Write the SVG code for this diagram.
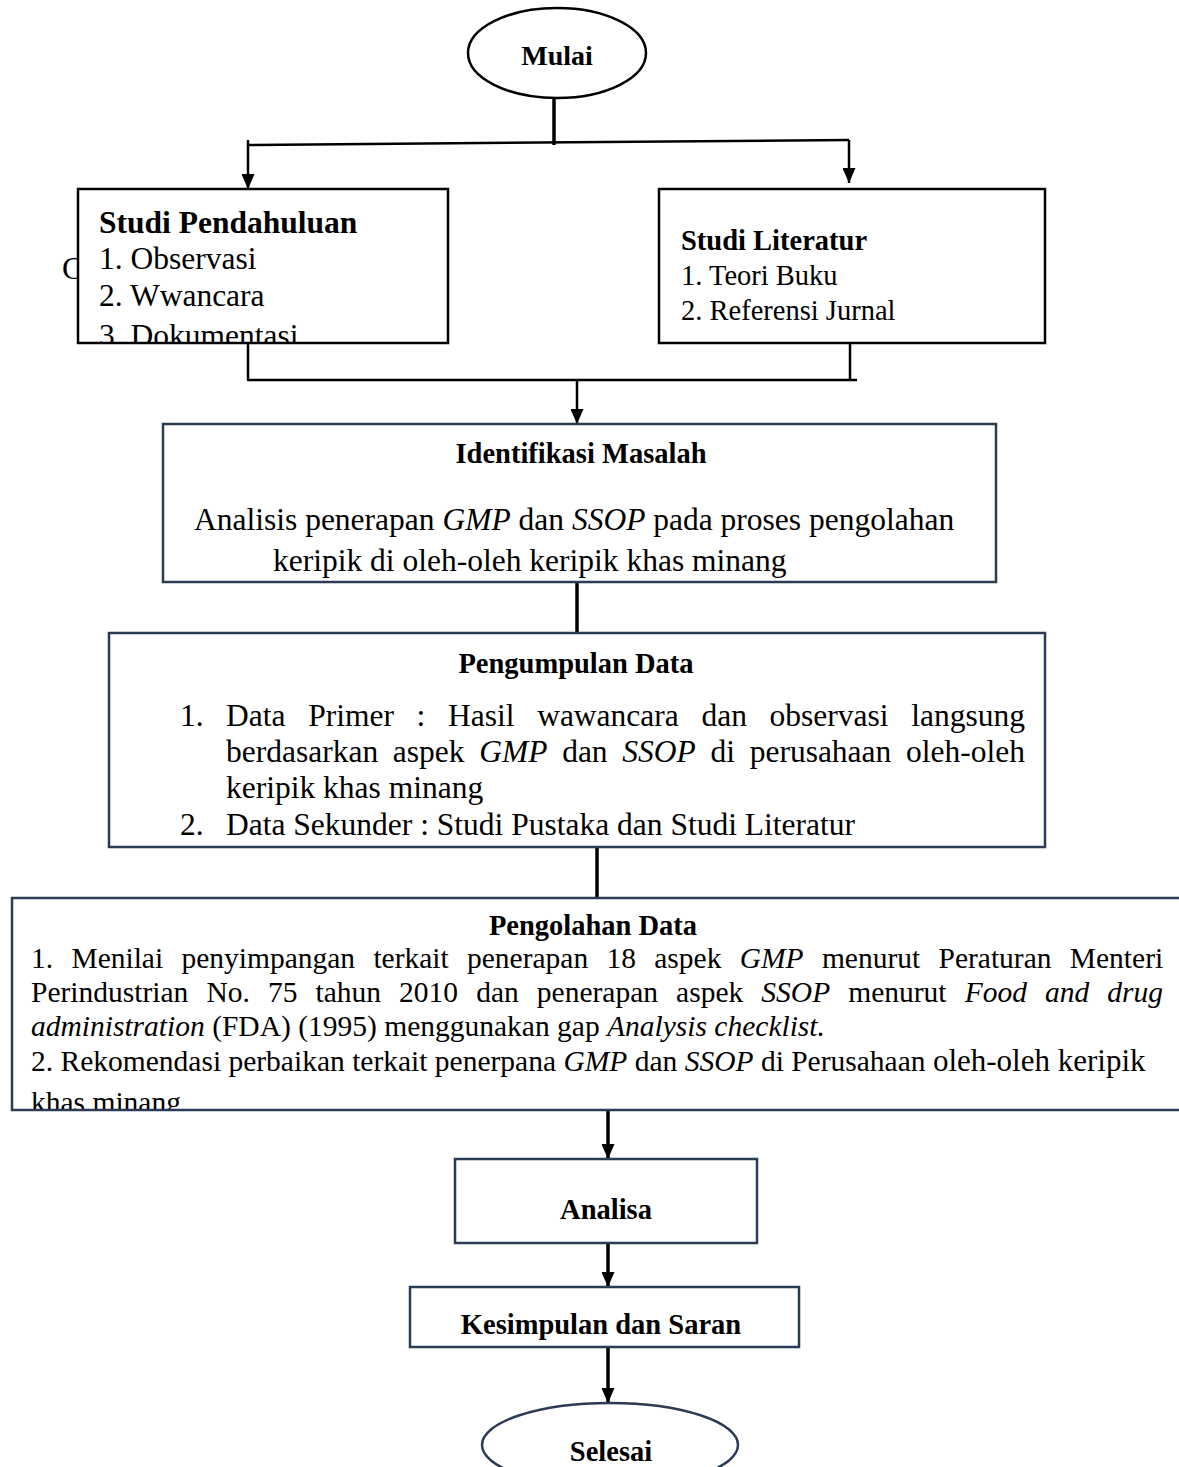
<svg xmlns="http://www.w3.org/2000/svg" width="1179" height="1467" viewBox="0 0 1179 1467">
<defs>
<style>
.t{font-family:"Liberation Serif","Times New Roman",serif;fill:#000}
.b{font-weight:bold}
.i{font-style:italic}
.box{fill:#fff;stroke:#000;stroke-width:2.5}
.nbox{fill:#fff;stroke:#2B3A55;stroke-width:2.5}
.ln{stroke:#000;stroke-width:2.5;fill:none}
.lt{stroke:#000;stroke-width:3.5;fill:none}
</style>
<marker id="ah" viewBox="0 0 10 10" refX="10" refY="5" markerWidth="15" markerHeight="13" markerUnits="userSpaceOnUse" orient="auto" preserveAspectRatio="none">
<path d="M0,0 L10,5 L0,10 z" fill="#000"/>
</marker>
<clipPath id="clipL"><rect x="78" y="189" width="370" height="153"/></clipPath>
<clipPath id="clipP"><rect x="12" y="898" width="1170" height="211"/></clipPath>
</defs>

<g id="connectors">
<line class="lt" x1="554" y1="98" x2="554" y2="145"/>
<line class="ln" x1="248" y1="145" x2="849" y2="140"/>
<line class="ln" x1="248" y1="140" x2="248" y2="189" marker-end="url(#ah)"/>
<line class="ln" x1="849" y1="140" x2="849" y2="183" marker-end="url(#ah)"/>
<line class="ln" x1="248" y1="343" x2="248" y2="380"/>
<line class="ln" x1="850" y1="343" x2="850" y2="380"/>
<line class="ln" x1="247" y1="380" x2="857" y2="380"/>
<line class="ln" x1="577" y1="380" x2="577" y2="424" marker-end="url(#ah)"/>
<line class="lt" x1="577" y1="582" x2="577" y2="633"/>
<line class="lt" x1="597" y1="847" x2="597" y2="898"/>
<line class="lt" x1="608" y1="1110" x2="608" y2="1159" marker-end="url(#ah)"/>
<line class="lt" x1="608" y1="1243" x2="608" y2="1287" marker-end="url(#ah)"/>
<line class="lt" x1="608" y1="1347" x2="608" y2="1403" marker-end="url(#ah)"/>
</g>

<g id="mulai">
<ellipse cx="557" cy="53" rx="89" ry="45" fill="#fff" stroke="#000" stroke-width="2.5"/>
<text class="t b" x="557" y="65" font-size="28" text-anchor="middle">Mulai</text>
</g>

<g id="studi-pendahuluan">
<text class="t" x="62" y="279" font-size="31.5">C</text>
<rect class="box" x="78" y="189" width="370" height="154"/>
<g clip-path="url(#clipL)">
<text class="t b" x="99" y="233" font-size="31.5">Studi Pendahuluan</text>
<text class="t" x="99" y="269" font-size="31.5">1. Observasi</text>
<text class="t" x="99" y="306" font-size="31.5">2. Wwancara</text>
<text class="t" x="99" y="346" font-size="31.5">3. Dokumentasi</text>
</g>
</g>

<g id="studi-literatur">
<rect class="box" x="659" y="189" width="386" height="154"/>
<text class="t b" x="681" y="250" font-size="28.5">Studi Literatur</text>
<text class="t" x="681" y="285" font-size="28.5">1. Teori Buku</text>
<text class="t" x="681" y="320" font-size="28.5">2. Referensi Jurnal</text>
</g>

<g id="identifikasi">
<rect class="nbox" x="163" y="424" width="833" height="158"/>
<text class="t b" x="581" y="463" font-size="28.5" text-anchor="middle">Identifikasi Masalah</text>
<text class="t" x="194" y="530" font-size="31.5">Analisis penerapan <tspan class="i">GMP</tspan> dan <tspan class="i">SSOP</tspan> pada proses pengolahan</text>
<text class="t" x="273" y="571" font-size="31.5">keripik di oleh-oleh keripik khas minang</text>
</g>

<g id="pengumpulan">
<rect class="nbox" x="109" y="633" width="936" height="214"/>
<text class="t b" x="576" y="673" font-size="28.5" text-anchor="middle">Pengumpulan Data</text>
<text class="t" x="180" y="726" font-size="31.5">1.</text>
<text class="t" x="226" y="726" font-size="31.5" style="word-spacing:14.8px">Data Primer : Hasil wawancara dan observasi langsung</text>
<text class="t" x="226" y="762" font-size="31.5" style="word-spacing:6.8px">berdasarkan aspek <tspan class="i">GMP</tspan> dan <tspan class="i">SSOP</tspan> di perusahaan oleh-oleh</text>
<text class="t" x="226" y="798" font-size="31.5">keripik khas minang</text>
<text class="t" x="180" y="835" font-size="31.5">2.</text>
<text class="t" x="226" y="835" font-size="31.5">Data Sekunder : Studi Pustaka dan Studi Literatur</text>
</g>

<g id="pengolahan">
<rect class="nbox" x="12" y="898" width="1180" height="212"/>
<text class="t b" x="593" y="935" font-size="28.5" text-anchor="middle">Pengolahan Data</text>
<g clip-path="url(#clipP)">
<text class="t" x="31" y="968" font-size="29.5" style="word-spacing:10.9px">1. Menilai penyimpangan terkait penerapan 18 aspek <tspan class="i">GMP</tspan> menurut Peraturan Menteri</text>
<text class="t" x="31" y="1002" font-size="29.5" style="word-spacing:10.7px">Perindustrian No. 75 tahun 2010 dan penerapan aspek <tspan class="i">SSOP</tspan> menurut <tspan class="i">Food and drug</tspan></text>
<text class="t" x="31" y="1036" font-size="29.5"><tspan class="i">administration</tspan> (FDA) (1995) menggunakan gap <tspan class="i">Analysis checklist.</tspan></text>
<text class="t" x="31" y="1071" font-size="29.5">2. Rekomendasi perbaikan terkait penerpana <tspan class="i">GMP</tspan> dan <tspan class="i">SSOP</tspan> di Perusahaan <tspan font-size="31">oleh-oleh keripik</tspan></text>
<text class="t" x="31" y="1112" font-size="29.5">khas minang</text>
</g>
</g>

<g id="analisa">
<rect class="nbox" x="455" y="1159" width="302" height="84"/>
<text class="t b" x="606" y="1219" font-size="28.5" text-anchor="middle">Analisa</text>
</g>

<g id="kesimpulan">
<rect class="nbox" x="410" y="1287" width="389" height="60"/>
<text class="t b" x="601" y="1334" font-size="28.5" text-anchor="middle">Kesimpulan dan Saran</text>
</g>

<g id="selesai">
<ellipse cx="610" cy="1445" rx="128" ry="42" fill="#fff" stroke="#2B3A55" stroke-width="2.5"/>
<text class="t b" x="611" y="1461" font-size="28.5" text-anchor="middle">Selesai</text>
</g>
</svg>
